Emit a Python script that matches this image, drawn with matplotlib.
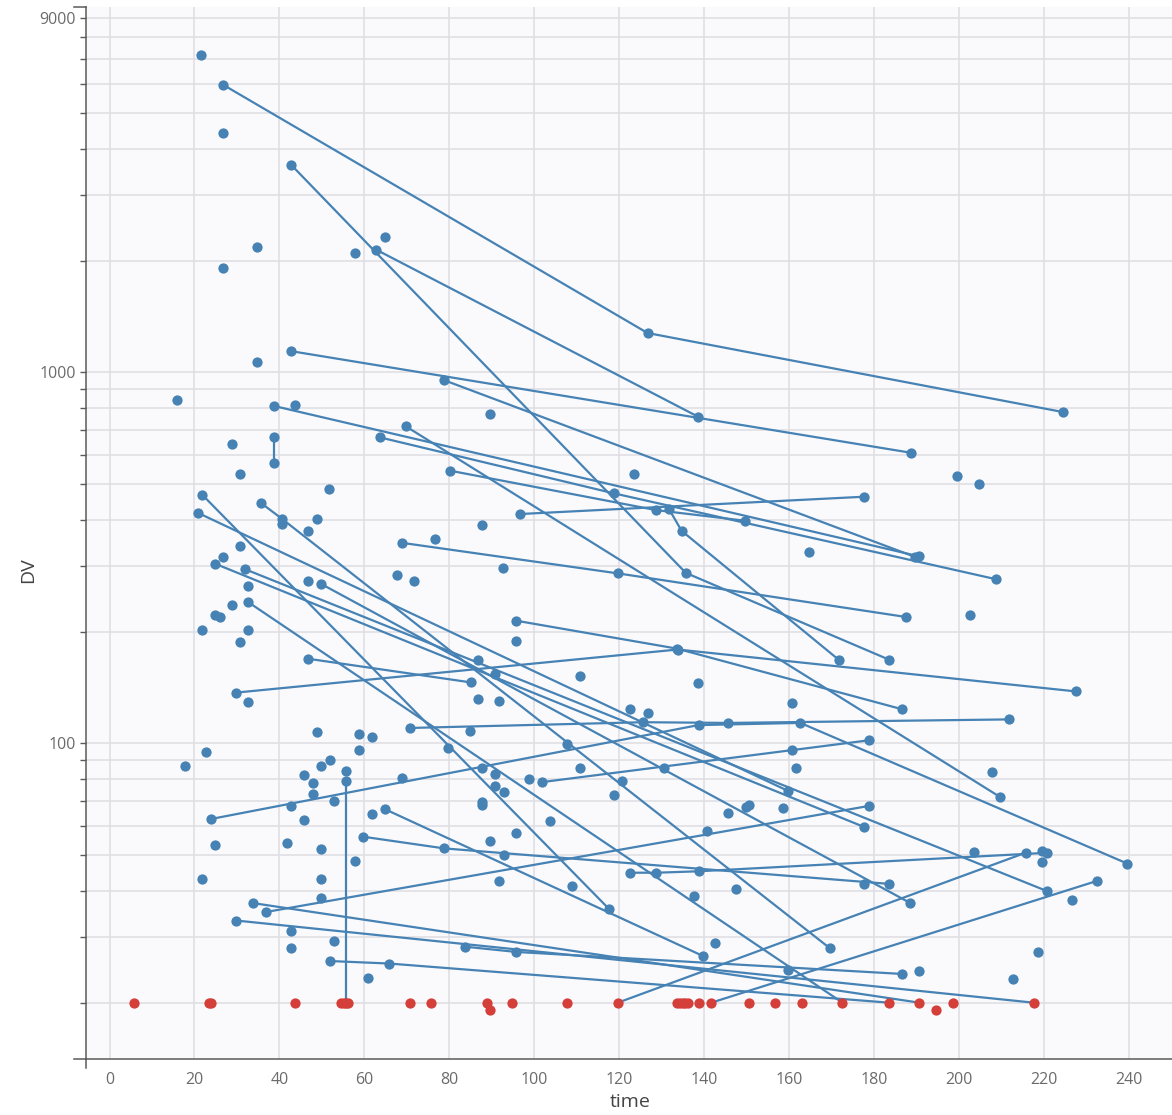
import matplotlib
matplotlib.use("Agg")
import matplotlib.pyplot as plt
from matplotlib.ticker import FixedLocator, FixedFormatter, NullFormatter
from matplotlib.lines import Line2D

# Subjects with more than one observation (one row per observation)
profile_id = [
    1, 1, 1,
    2, 2, 2,
    3, 3,
    4, 4,
    5, 5,
    6, 6,
    7, 7,
    8, 8, 8,
    9, 9, 9,
    10, 10, 10,
    11, 11,
    12, 12,
    13, 13, 13,
    14, 14, 14,
    15, 15, 15,
    16, 16,
    17, 17, 17, 17,
    18, 18, 18, 18,
    19, 19,
    20, 20,
    21, 21, 21,
    22, 22,
    23, 23,
    24, 24,
    25, 25,
    26, 26,
    27, 27, 27,
    28, 28,
    29, 29,
    30, 30,
    31, 31, 31,
    32, 32, 32,
    33, 33,
    34, 34,
    35, 35, 35, 35,
    36, 36,
    37, 37,
]
profile_time = [
    26.8, 126.7, 224.6,
    42.8, 135.7, 183.6,
    62.8, 138.6,
    42.8, 188.7,
    78.7, 189.7,
    38.8, 190.7,
    38.8, 38.8,
    131.7, 134.7, 171.7,
    80.2, 128.8, 149.7,
    63.6, 118.7, 208.7,
    69.7, 209.6,
    96.7, 177.7,
    68.9, 119.8, 187.6,
    95.8, 133.6, 186.7,
    29.8, 133.8, 227.6,
    46.8, 85.0,
    70.7, 125.7, 145.7, 211.7,
    23.8, 138.7, 162.7, 239.7,
    21.8, 117.7,
    20.8, 159.7,
    35.7, 40.7, 169.7,
    24.8, 177.7,
    31.8, 220.7,
    32.7, 172.6,
    49.8, 188.6,
    64.8, 139.8,
    59.8, 78.8, 183.6,
    33.8, 190.7,
    36.8, 178.8,
    29.8, 217.6,
    51.8, 65.8, 183.6,
    83.8, 95.8, 186.7,
    119.7, 215.7,
    141.7, 232.6,
    122.6, 128.8, 138.7, 220.8,
    55.7, 55.7,
    101.8, 178.8,
]
profile_dv = [
    5950, 1276, 781,
    3620, 288, 168,
    2140, 759,
    1140, 607,
    953, 318,
    811, 319,
    670, 569,
    429, 374, 168,
    543, 425, 398,
    668, 472, 277,
    716, 71.8,
    415, 462,
    347, 287, 219,
    214, 180, 123.5,
    137, 179, 138,
    169, 146,
    110, 114, 113.5, 116,
    62.5, 112, 113.5, 47.4,
    468, 35.7,
    418, 74.5,
    444, 402, 28,
    305, 59.5,
    295, 40,
    240, 20,
    269, 37.1,
    66.5, 26.7,
    56, 52.1, 41.8,
    37.1, 20,
    35.1, 67.8,
    33.3, 20,
    25.9, 25.5, 20,
    28.3, 27.4, 23.9,
    20, 50.7,
    20, 42.6,
    44.8, 44.8, 45.2, 50.7,
    79, 20,
    78.6, 101.9,
]
profile_bql = [
    0, 0, 0,
    0, 0, 0,
    0, 0,
    0, 0,
    0, 0,
    0, 0,
    0, 0,
    0, 0, 0,
    0, 0, 0,
    0, 0, 0,
    0, 0,
    0, 0,
    0, 0, 0,
    0, 0, 0,
    0, 0, 0,
    0, 0,
    0, 0, 0, 0,
    0, 0, 0, 0,
    0, 0,
    0, 0,
    0, 0, 0,
    0, 0,
    0, 0,
    0, 1,
    0, 0,
    0, 0,
    0, 0, 0,
    0, 1,
    0, 0,
    0, 1,
    0, 0, 1,
    0, 0, 0,
    1, 0,
    1, 0,
    0, 0, 0, 0,
    0, 1,
    0, 0,
]

# Subjects with a single quantified observation
single_time = [
    21.6, 26.8, 34.7, 26.8, 57.8, 64.9, 34.7, 15.8, 43.7, 28.8, 30.8, 51.7,
    89.7, 123.6, 87.6, 164.6, 92.6, 199.6, 204.8, 202.7,
    40.7, 48.8, 46.8, 30.8, 26.8, 32.7, 28.8, 24.8, 25.9, 21.8, 32.7, 30.8,
    46.8, 67.7, 71.6, 76.7, 95.8,
    86.8, 90.8, 110.8, 138.6, 86.8, 91.8, 160.7, 122.6, 126.7, 84.8, 79.8,
    107.7, 110.8, 130.6, 160.7, 161.7, 87.7, 90.8, 90.8, 92.8, 98.7, 120.7,
    118.7, 87.8, 87.8, 149.8, 150.7, 145.7, 158.7, 103.7, 95.8, 89.7, 92.8,
    140.7, 91.7, 108.8, 147.6, 137.7, 142.6, 159.7,
    207.7, 203.6, 219.7, 219.7, 177.7, 226.6, 218.6, 190.7, 212.7,
    48.8, 58.7, 61.8, 58.7, 22.8, 17.8, 51.8, 49.8, 55.7, 45.8, 47.8, 47.8,
    42.8, 52.8, 68.8, 45.8, 61.8, 24.8, 41.8, 49.8, 57.8, 21.8, 49.8, 49.8,
    42.8, 42.8, 52.8, 60.8, 32.7,
]
single_dv = [
    7160, 4410, 2180, 1910, 2100, 2310, 1065, 844, 815, 641, 532, 485,
    772, 532, 388, 328, 296, 526, 501, 222,
    390, 402, 374, 340, 317, 266, 236, 222, 219, 202, 202, 187,
    274, 284, 274, 355, 189,
    168, 153.5, 152, 145, 131.6, 130, 128.6, 124, 120.5, 108, 97,
    99.6, 85.6, 85.9, 96, 85.6, 85.9, 82.6, 76.9, 73.9, 80.3, 79.4,
    72.6, 69.3, 68, 67.2, 68, 65, 66.8, 61.7, 57.5, 54.5, 50.1,
    58.1, 42.6, 41.2, 40.4, 38.8, 28.9, 24.5,
    83.8, 51, 51.3, 48, 41.8, 37.9, 27.4, 24.3, 23.1,
    107, 106, 104, 96, 95, 87, 90, 87, 84, 82, 78, 73,
    67.8, 70, 80.6, 62, 64.6, 53.2, 53.8, 52, 48.3, 43.2, 43.2, 38.4,
    31.2, 28, 29.4, 23.3, 129,
]

# Subjects with a single observation below the limit of quantification
bql_time = [
    5.8, 23.3, 24.0, 43.7, 54.5, 55.2, 56.2, 70.7, 75.8, 88.9, 89.7, 94.7,
    107.7, 133.6, 134.3, 135.0, 135.6, 136.2, 138.7, 150.7, 156.6, 163.0,
    194.6, 198.6,
]
bql_dv = [
    20, 20, 20, 20, 20, 20, 20, 20, 20, 20, 19.1, 20,
    20, 20, 20, 20, 20, 20, 20, 20, 20, 20,
    19.1, 19.9,
]

BLUE = "#4682b4"
RED = "#d43f3a"
GRID = "#dedee2"
AXIS = "#5a5a5a"

W, H = 1172, 1115
fig = plt.figure(figsize=(W / 100, H / 100), dpi=100)
left, right, top, bottom = 86, 1172, 7, 1059
ax = fig.add_axes([left / W, 1 - bottom / H, (right - left) / W, (bottom - top) / H])
ax.set_facecolor("#fafafd")
ax.set_yscale("log")
ax.set_xlim(-5.55, 250.2)
ax.set_ylim(14.1, 9650)

# spaghetti lines per subject, then the observations on top
ids = []
for s in profile_id:
    if s not in ids:
        ids.append(s)
for s in ids:
    idx = [i for i, v in enumerate(profile_id) if v == s]
    pts = sorted((profile_time[i], profile_dv[i]) for i in idx)
    ax.plot([p[0] for p in pts], [p[1] for p in pts], color=BLUE, lw=1.6,
            solid_capstyle="round", zorder=2)

q_t = [t for t, b in zip(profile_time, profile_bql) if not b] + single_time
q_v = [v for v, b in zip(profile_dv, profile_bql) if not b] + single_dv
b_t = [t for t, b in zip(profile_time, profile_bql) if b] + bql_time
b_v = [v for v, b in zip(profile_dv, profile_bql) if b] + bql_dv
ax.plot(q_t, q_v, "o", ms=7.4, color=BLUE, mec=BLUE, mew=0, zorder=3)
ax.plot(b_t, b_v, "o", ms=7.4, color=RED, mec=RED, mew=0, zorder=3)

# axes, ticks and grid
x_ticks = list(range(0, 241, 20))
ax.xaxis.set_major_locator(FixedLocator(x_ticks))
ax.xaxis.set_minor_locator(FixedLocator([]))
y_major = [100, 1000, 9000]
y_minor = [m * 10 ** e for e in (1, 2, 3) for m in range(2, 10)]
y_minor = [v for v in y_minor if v not in y_major]
ax.yaxis.set_major_locator(FixedLocator(y_major))
ax.yaxis.set_major_formatter(FixedFormatter(["100", "1000", "9000"]))
ax.yaxis.set_minor_locator(FixedLocator(y_minor))
ax.yaxis.set_minor_formatter(NullFormatter())

ax.grid(True, which="major", axis="x", color=GRID, lw=1.1)
ax.grid(True, which="both", axis="y", color=GRID, lw=1.1)
ax.set_axisbelow(True)

for side in ("top", "right"):
    ax.spines[side].set_visible(False)
for side in ("left", "bottom"):
    ax.spines[side].set_color(AXIS)
    ax.spines[side].set_linewidth(1.1)

font = "Open Sans"
ax.tick_params(axis="x", which="major", length=0, pad=9, labelsize=11.5,
               labelcolor="#6b6b6b")
ax.tick_params(axis="y", which="both", direction="out", length=4.5,
               width=1.0, color=AXIS, pad=3, labelsize=11.5, labelcolor="#6b6b6b")
for lab in ax.get_xticklabels() + ax.get_yticklabels():
    lab.set_fontfamily(font)

# short axis-line extensions at the frame corners
ax.add_line(Line2D([-0.011, 0], [0, 0], transform=ax.transAxes, color=AXIS,
                   lw=1.1, clip_on=False))
ax.add_line(Line2D([0, 0], [-0.0085, 0], transform=ax.transAxes, color=AXIS,
                   lw=1.1, clip_on=False))
ax.add_line(Line2D([-0.011, 0], [1, 1], transform=ax.transAxes, color=AXIS,
                   lw=1.1, clip_on=False))

fig.text(630 / W, 1 - 1102 / H, "time", ha="center", va="center",
         fontsize=14, color="#444444", family=font)
fig.text(28 / W, 1 - 570 / H, "DV", ha="center", va="center", rotation=90,
         fontsize=14, color="#444444", family=font)

fig.savefig("out.png", dpi=100, facecolor="white")
